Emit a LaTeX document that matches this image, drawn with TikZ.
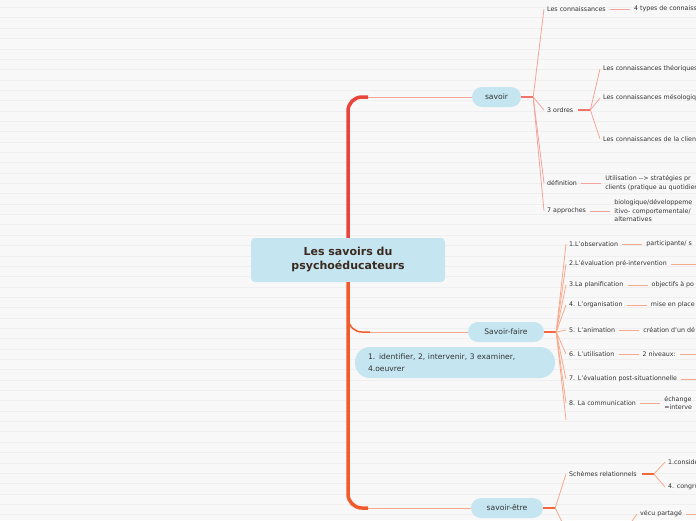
\documentclass[tikz,border=0pt]{standalone}
\usepackage{fontspec}
\setmainfont{DejaVu Sans}
\usetikzlibrary{positioning,calc}
\definecolor{MapBlue}{HTML}{C5E6F1}
\definecolor{MapText}{HTML}{333333}
\definecolor{MapBrown}{HTML}{3B2A20}
\definecolor{TrunkRed}{HTML}{E8453C}
\definecolor{TrunkOrange}{HTML}{F15A2B}
\definecolor{LinkPink}{HTML}{F5A49C}
\definecolor{LinkSalmon}{HTML}{F7A98C}
\definecolor{StubRed}{HTML}{F07468}
\definecolor{StubOrange}{HTML}{F2683C}
\definecolor{PaperBg}{HTML}{F8F8F8}
\definecolor{PaperLine}{HTML}{EFEFEF}

\begin{document}
\begin{tikzpicture}[x=1pt, y=-1pt,
    root/.style={fill=MapBlue, rounded corners=4pt, minimum width=194pt,
                 minimum height=44pt, align=center, inner sep=2pt,
                 text=MapBrown, font=\fontsize{11}{14}\selectfont\bfseries},
    topic/.style={fill=MapBlue, rounded corners=10pt, minimum height=20pt,
                  inner sep=2pt, text=MapText,
                  font=\fontsize{7.6}{9}\selectfont},
    remark/.style={fill=MapBlue, rounded corners=15pt, minimum height=31pt,
                   text width=174pt, inner xsep=13pt, align=left,
                   text=MapText, font=\fontsize{7.6}{11.5}\selectfont},
    leaf/.style={anchor=west, inner sep=1pt, align=left, text=MapText,
                 font=\fontsize{6.3}{8.5}\selectfont},
    stripe/.style={draw=PaperLine, line width=0.8pt},
    trunkup/.style={draw=TrunkRed, line width=3.5pt, rounded corners=14pt},
    trunkdown/.style={draw=TrunkOrange, line width=3.5pt, rounded corners=14pt},
    stubA/.style={draw=StubRed, line width=1.8pt},
    stubB/.style={draw=StubOrange, line width=1.8pt},
    linkA/.style={draw=LinkPink, line width=0.8pt},
    linkB/.style={draw=LinkSalmon, line width=0.8pt},
    node distance=26pt,
  ]
    % -- paper ------------------------------------------------------------
    \useasboundingbox (0,0) rectangle (696,520);
    \clip (0,0) rectangle (696,520);
    \fill[PaperBg] (0,0) rectangle (696,520);
    \foreach \k in {0,...,50}
      \draw[stripe] (0,7.5+10.35*\k) -- (696,7.5+10.35*\k);
    \coordinate (edge) at (700,0);

    % -- centre and main topics -------------------------------------------
    \node[root] (root) at (348,260) {Les savoirs du\\psychoéducateurs};
    \node[topic, minimum width=49pt] (savoir) at (496.5,97) {savoir};
    \node[topic, minimum width=76pt] (faire)  at (506,332)  {Savoir-faire};
    \node[topic, minimum width=72pt] (etre)   at (507,508)  {savoir-être};
    \node[remark] (verbes) at (455,362.5)
      {1. identifier, 2, intervenir, 3 examiner,\\4.oeuvrer};

    % -- trunk ------------------------------------------------------------
    \draw[trunkup] (root.north) |- ($(root.north |- savoir.west)+(20,0)$)
      coordinate (bendA);
    \draw[linkA] (bendA) -- (savoir.west);
    \draw[trunkdown] (root.south) |- ($(root.south |- etre.west)+(20,0)$)
      coordinate (bendC);
    \draw[linkB] (bendC) -- (etre.west);
    \draw[trunkdown, line width=1.5pt] ($(root.south)+(0,26)$)
      |- ($(root.south |- faire.west)+(22,0)$) coordinate (bendB);
    \draw[linkB] (bendB) -- (faire.west);

    % -- savoir -----------------------------------------------------------
    \draw[stubA] (savoir.east) -- ++(12,0) coordinate (hubA);
    \node[leaf] (conn)   at (546,9)   {Les connaissances};
    \node[leaf] (ordres) at (546,110) {3 ordres};
    \node[leaf] (defin)  at (546,183) {définition};
    \node[leaf] (approc) at (546,211) {7 approches};
    \foreach \c in {conn, ordres, defin, approc}
      \draw[linkA] (hubA) -- ([xshift=-2pt]\c.west);

    \node[leaf, right=of conn]   (types) {4 types de connaissances};
    \node[leaf, right=of defin]  (utili)
      {Utilisation -{}-{}> stratégies pr\\clients (pratique au quotidien};
    \node[leaf, right=of approc] (biolo)
      {biologique/développeme\\itivo- comportementale/\\alternatives};
    \foreach \a/\b in {conn/types, defin/utili, approc/biolo}
      \draw[linkA] ([xshift=3pt]\a.east) -- ([xshift=-3pt]\b.west);

    \draw[stubA] ([xshift=4pt]ordres.east) -- ++(12,0) coordinate (hubO);
    \node[leaf] (theo)  at (602,69)  {Les connaissances théoriques};
    \node[leaf] (meso)  at (602,98)  {Les connaissances mésologiques};
    \node[leaf] (clien) at (602,139) {Les connaissances de la clientèle};
    \foreach \c in {theo, meso, clien}
      \draw[linkA] (hubO) -- ([xshift=-2pt]\c.west);

    % -- savoir-faire -----------------------------------------------------
    \draw[stubB] (faire.east) -- ++(12,0) coordinate (hubB);
    \node[leaf] (obs)    at (568,244) {1.L'observation};
    \node[leaf] (preev)  at (568,264) {2.L'évaluation pré-intervention};
    \node[leaf] (planif) at (568,285) {3.La planification};
    \node[leaf] (organ)  at (568,305) {4. L'organisation};
    \node[leaf] (anim)   at (568,330) {5. L'animation};
    \node[leaf] (utilis) at (568,354) {6. L'utilisation};
    \node[leaf] (postev) at (568,379) {7. L'évaluation post-situationnelle};
    \node[leaf] (commu)  at (568,403) {8. La communication};
    \coordinate (blank) at (566,420);
    \foreach \c in {obs, preev, planif, organ, anim, utilis, postev, commu}
      \draw[linkB] (hubB) -- ([xshift=-2pt]\c.west);
    \draw[linkB] (hubB) -- (blank);

    \node[leaf, right=of obs]    (obsx)    {participante/ s};
    \node[leaf, right=of planif] (planifx) {objectifs à po};
    \node[leaf, right=of organ]  (organx)  {mise en place};
    \node[leaf, right=of anim]   (animx)   {création d'un dé};
    \node[leaf, right=of utilis] (utilisx) {2 niveaux:};
    \node[leaf, right=of commu]  (commux)  {échange\\=interve};
    \foreach \a/\b in {obs/obsx, planif/planifx, organ/organx, anim/animx,
                       utilis/utilisx, commu/commux}
      \draw[linkB] ([xshift=3pt]\a.east) -- ([xshift=-3pt]\b.west);
    \foreach \a in {preev, utilisx, postev}
      \draw[linkB] ([xshift=3pt]\a.east) -- (\a.east -| edge);

    % -- savoir-etre ------------------------------------------------------
    \draw[stubB] (etre.east) -- ++(12,0) coordinate (hubC);
    \node[leaf] (schem) at (568,474) {Schèmes relationnels};
    \coordinate (etrelow) at (567,532);
    \draw[linkB] (hubC) -- ([xshift=-2pt]schem.west);
    \draw[linkB] (hubC) -- (etrelow);

    \draw[stubB] ([xshift=4pt]schem.east) -- ++(12,0) coordinate (hubS);
    \node[leaf] (consi)  at (667,462) {1.considération};
    \node[leaf] (congru) at (667,487) {4. congruence};
    \foreach \c in {consi, congru}
      \draw[linkB] (hubS) -- ([xshift=-2pt]\c.west);

    \node[leaf] (vecu) at (639,514) {vécu partagé};
    \coordinate (vecuin) at (627,528);
    \draw[linkB] (vecuin) -- ([xshift=-2pt]vecu.west);
    \draw[linkB] ([xshift=3pt]vecu.east) -- (vecu.east -| edge);
  \end{tikzpicture}
\end{document}
